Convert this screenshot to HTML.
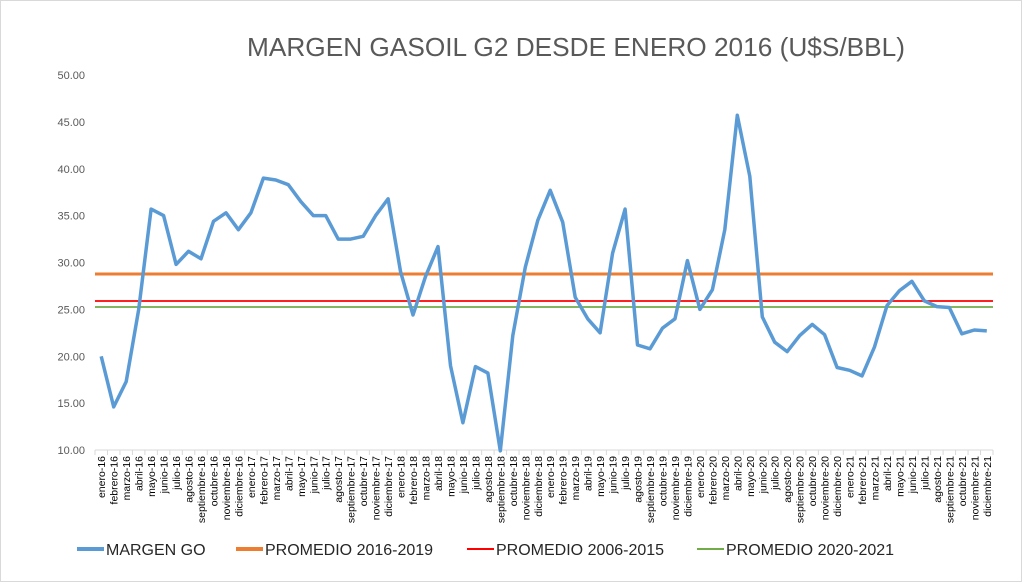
<!DOCTYPE html>
<html><head><meta charset="utf-8"><style>
body{margin:0;background:#fff}
svg{display:block;font-family:"Liberation Sans",Arial,sans-serif}
</style></head><body>
<svg id="s" width="1023" height="583" viewBox="0 0 1023 583" xmlns="http://www.w3.org/2000/svg">
<rect x="0.5" y="0.5" width="1021" height="581" fill="#fff" stroke="#d9d9d9"/>
<text x="576" y="56" text-anchor="middle" font-size="26" textLength="658" lengthAdjust="spacingAndGlyphs" fill="#595959">MARGEN GASOIL G2 DESDE ENERO 2016 (U$S/BBL)</text>
<g id="g"></g>
<line x1="95" y1="450" x2="993" y2="450" stroke="#d9d9d9"/>
<line x1="95" y1="274" x2="993" y2="274" stroke="#ED7D31" stroke-width="3"/>
<line x1="95" y1="301" x2="993" y2="301" stroke="#FF0000" stroke-width="1.8"/>
<line x1="95" y1="307" x2="993" y2="307" stroke="#70AD47" stroke-width="1.8"/>
<polyline id="p" fill="none" stroke="#5B9BD5" stroke-width="3.5" stroke-linejoin="round"/>
<g font-size="16" fill="#262626">
<line x1="77" y1="549" x2="104" y2="549" stroke="#5B9BD5" stroke-width="4"/><text x="106" y="555">MARGEN GO</text>
<line x1="236" y1="549" x2="263" y2="549" stroke="#ED7D31" stroke-width="4"/><text x="265" y="555">PROMEDIO 2016-2019</text>
<line x1="467" y1="549" x2="494" y2="549" stroke="#FF0000" stroke-width="2"/><text x="496" y="555">PROMEDIO 2006-2015</text>
<line x1="697" y1="549" x2="724" y2="549" stroke="#70AD47" stroke-width="2"/><text x="726" y="555">PROMEDIO 2020-2021</text>
</g>
</svg>
<script>
var d=[20.0,14.6,17.3,25.0,35.7,35.0,29.8,31.2,30.4,34.4,35.3,33.5,
35.3,39.0,38.8,38.3,36.5,35.0,35.0,32.5,32.5,32.8,35.0,36.8,
29.0,24.4,28.5,31.7,19.0,12.9,18.9,18.2,9.9,22.2,29.5,34.5,
37.7,34.3,26.3,24.0,22.5,31.0,35.7,21.2,20.8,23.0,24.0,30.2,
25.0,27.1,33.5,45.7,39.2,24.2,21.5,20.5,22.2,23.4,22.3,18.8,
18.5,17.9,21.0,25.4,27.0,28.0,25.9,25.3,25.2,22.4,22.8,22.7];
var m=["enero","febrero","marzo","abril","mayo","junio","julio","agosto","septiembre","octubre","noviembre","diciembre"];
var g=document.getElementById("g"),h="";
var w=898/72;
for(var v=10;v<=50;v+=5){var y=450-(v-10)*9.375;h+='<text x="85" y="'+(y+4)+'" text-anchor="end" font-size="11" fill="#595959">'+v.toFixed(2)+'</text>';}
for(var i=0;i<=72;i++){var x=95+i*w;h+='<line x1="'+x+'" y1="450" x2="'+x+'" y2="455" stroke="#d9d9d9"/>';}
var pts=[];
for(var i=0;i<72;i++){var x=95+w/2+i*w;var lab=m[i%12]+"-"+(16+Math.floor(i/12));
h+='<text transform="translate('+(x+4)+',456) rotate(-90)" text-anchor="end" font-size="10.5" fill="#000">'+lab+'</text>';
pts.push(x.toFixed(1)+","+(450-(d[i]-10)*9.375).toFixed(1));}
g.innerHTML=h;
document.getElementById("p").setAttribute("points",pts.join(" "));
</script>
</body></html>
